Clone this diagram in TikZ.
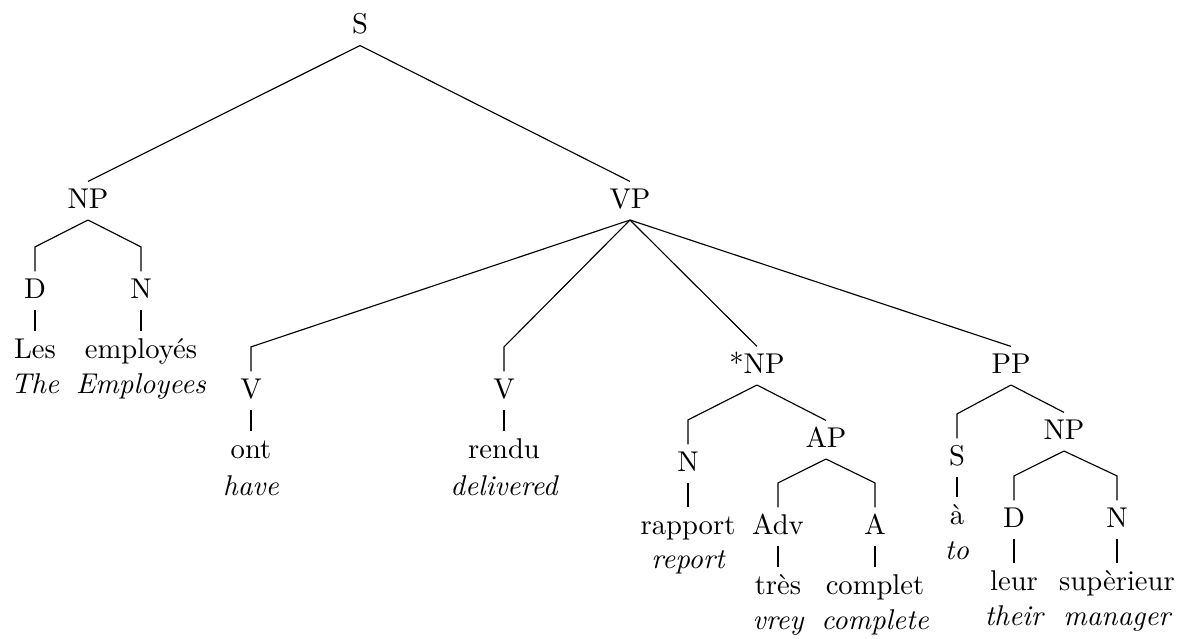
\documentclass[tikz,border=0pt]{standalone}
\usepackage{fontspec}
\begin{document}
\begin{tikzpicture}[x=0.34965pt,y=-0.34965pt,
  cat/.style={inner sep=0pt,outer sep=0pt,text height=9.3pt,text depth=4.2pt,anchor=base},
  gloss/.style={inner sep=0pt,outer sep=0pt,anchor=base,font=\itshape},
  edge/.style={line width=0.4pt},
  knee/.style={yshift=8.57pt}]
\useasboundingbox (0,0) rectangle (1182,638);
% nodes
\node[cat] (S) at (360,33.5) {S};
\node[cat] (NP) at (88,208) {NP};
\node[cat] (VP) at (630,208) {VP};
\node[cat] (D1) at (35,298) {D};
\node[cat] (N1) at (141,298) {N};
\node[cat] (w1) at (35,358) {Les};
\node[gloss] (g1) at (35,393) {The};
\node[cat] (w2) at (141,358) {employés};
\node[gloss] (g2) at (141,393) {Employees};
\node[cat] (V1) at (251,398) {V};
\node[cat] (V2) at (504,398) {V};
\node[cat] (w3) at (251,458) {ont};
\node[gloss] (g3) at (251,495) {have};
\node[cat] (w4) at (504,458) {rendu};
\node[gloss] (g4) at (504,495) {delivered};
\node[cat] (NP2) at (757,373) {*NP};
\node[cat] (PP) at (1011,373) {PP};
\node[cat] (N2) at (688,471) {N};
\node[cat] (w5) at (688,534) {rapport};
\node[gloss] (g5) at (688,568) {report};
\node[cat] (AP) at (826,447) {AP};
\node[cat] (Adv) at (778,534) {Adv};
\node[cat] (A) at (875,534) {A};
\node[cat] (w6) at (778,594) {très};
\node[gloss] (g6) at (778,629) {vrey};
\node[cat] (w7) at (875,594) {complet};
\node[gloss] (g7) at (875,629) {complete};
\node[cat] (S2) at (957,465) {S};
\node[cat] (w8) at (957,524) {à};
\node[gloss] (g8) at (957,559) {to};
\node[cat] (NP3) at (1064,439) {NP};
\node[cat] (D2) at (1014,527) {D};
\node[cat] (N3) at (1117,527) {N};
\node[cat] (w9) at (1014,590) {leur};
\node[gloss] (g9) at (1014,625) {their};
\node[cat] (w10) at (1117,590) {supèrieur};
\node[gloss] (g10) at (1117,625) {manager};
% edges
\draw[edge] (S.south) -- (NP.north);
\draw[edge] (S.south) -- (VP.north);
\draw[edge] (NP.south) -- ([knee]D1.north) -- (D1.north);
\draw[edge] (NP.south) -- ([knee]N1.north) -- (N1.north);
\draw[edge] (D1.south) -- (w1.north);
\draw[edge] (N1.south) -- (w2.north);
\draw[edge] (VP.south) -- ([knee]V1.north) -- (V1.north);
\draw[edge] (VP.south) -- ([knee]V2.north) -- (V2.north);
\draw[edge] (VP.south) -- (NP2.north);
\draw[edge] (VP.south) -- (PP.north);
\draw[edge] (V1.south) -- (w3.north);
\draw[edge] (V2.south) -- (w4.north);
\draw[edge] (NP2.south) -- ([knee]N2.north) -- (N2.north);
\draw[edge] (NP2.south) -- (AP.north);
\draw[edge] (N2.south) -- (w5.north);
\draw[edge] (AP.south) -- ([knee]Adv.north) -- (Adv.north);
\draw[edge] (AP.south) -- ([knee]A.north) -- (A.north);
\draw[edge] (Adv.south) -- (w6.north);
\draw[edge] (A.south) -- (w7.north);
\draw[edge] (PP.south) -- ([knee]S2.north) -- (S2.north);
\draw[edge] (PP.south) -- (NP3.north);
\draw[edge] (S2.south) -- (w8.north);
\draw[edge] (NP3.south) -- ([knee]D2.north) -- (D2.north);
\draw[edge] (NP3.south) -- ([knee]N3.north) -- (N3.north);
\draw[edge] (D2.south) -- (w9.north);
\draw[edge] (N3.south) -- (w10.north);
\end{tikzpicture}
\end{document}
